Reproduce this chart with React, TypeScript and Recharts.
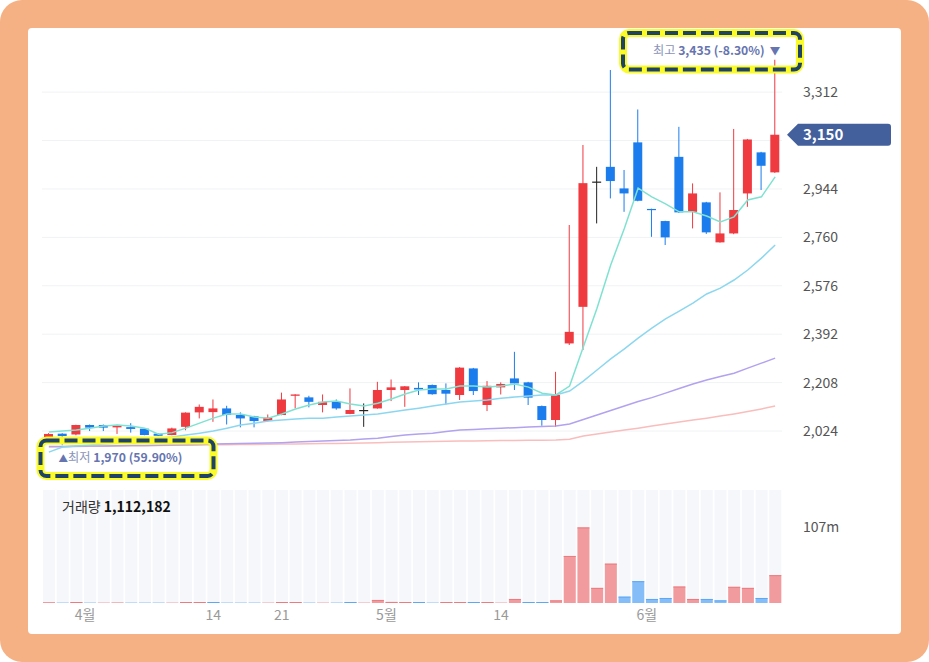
import {
  Bar,
  CartesianGrid,
  ComposedChart,
  Line,
  ReferenceDot,
  ReferenceLine,
  XAxis,
  YAxis,
} from "recharts";

const dates = [
  "03-27", "03-28", "03-31", "04-01", "04-02", "04-03", "04-04", "04-07", "04-08", "04-09",
  "04-10", "04-11", "04-14", "04-15", "04-16", "04-17", "04-18", "04-21", "04-22", "04-23",
  "04-24", "04-25", "04-28", "04-29", "04-30", "05-02", "05-05", "05-06", "05-07", "05-08",
  "05-09", "05-12", "05-13", "05-14", "05-15", "05-16", "05-19", "05-20", "05-21", "05-22",
  "05-23", "05-26", "05-27", "05-28", "06-02", "06-04", "06-05", "06-09", "06-10", "06-11",
  "06-12", "06-13", "06-16", "06-17",
];

const opens = [
  2001, 2014, 2011, 2047, 2047, 2038, 2039, 2033, 2014, 2009,
  2040, 2095, 2096, 2110, 2085, 2080, 2062, 2085, 2158, 2152,
  2123, 2135, 2089, 2104, 2110, 2180, 2180, 2188, 2199, 2180,
  2161, 2262, 2123, 2190, 2224, 2209, 2119, 2066, 2357, 2496,
  2972, 3028, 2946, 3121, 2868, 2822, 3066, 2857, 2893, 2741,
  2775, 2927, 3083, 3007,
];
const highs = [
  2016, 2016, 2048, 2049, 2049, 2048, 2054, 2034, 2015, 2037,
  2095, 2125, 2144, 2120, 2095, 2082, 2087, 2170, 2164, 2158,
  2163, 2144, 2186, 2129, 2211, 2220, 2195, 2209, 2201, 2205,
  2267, 2264, 2214, 2209, 2325, 2211, 2121, 2249, 2807, 3111,
  3028, 3396, 3016, 3246, 2869, 2823, 3180, 2965, 2895, 2931,
  3172, 3134, 3085, 3435,
];
const lows = [
  1997, 1970, 2008, 2024, 2024, 2013, 2018, 2008, 2005, 2008,
  2027, 2072, 2059, 2049, 2038, 2038, 2060, 2084, 2110, 2114,
  2095, 2105, 2088, 2040, 2109, 2138, 2116, 2161, 2162, 2125,
  2142, 2161, 2100, 2163, 2180, 2123, 2044, 2040, 2351, 2332,
  2813, 2908, 2857, 2897, 2762, 2731, 2853, 2794, 2773, 2740,
  2772, 2876, 2940, 3005,
];
const closes = [
  2013, 2005, 2047, 2037, 2037, 2047, 2032, 2009, 2006, 2034,
  2094, 2116, 2110, 2085, 2072, 2062, 2075, 2144, 2163, 2135,
  2135, 2110, 2104, 2104, 2180, 2190, 2194, 2182, 2164, 2166,
  2265, 2176, 2196, 2203, 2205, 2151, 2066, 2161, 2401, 2966,
  2972, 2974, 2927, 2899, 2864, 2760, 2855, 2927, 2779, 2775,
  2864, 3132, 3032, 3150,
];

// volume in millions
const volumes = [
  0.8, 0.3, 1.4, 0.3, 0.3, 0.5, 0.3, 0.3, 0.3, 0.3,
  1.4, 1.4, 1.4, 0.3, 0.3, 0.3, 0.3, 1.4, 1.4, 0.3,
  0.3, 0.3, 1.4, 0.3, 4.3, 1.5, 1.4, 1.4, 0.3, 1.4,
  1.4, 1.4, 1.4, 0.3, 5.7, 1.4, 1.4, 3.7, 66.6, 107,
  21.4, 55.7, 9, 30.9, 5.7, 7.1, 23.3, 5.7, 5.7, 3.7,
  22.9, 21.4, 7.1, 39.4,
];

const ma5 = [
  2020, 2024, 2028, 2035, 2043, 2047, 2043, 2035, 2012, 2018,
  2035, 2054, 2073, 2089, 2089, 2077, 2073, 2089, 2108, 2123,
  2134, 2138, 2127, 2119, 2130, 2146, 2165, 2180, 2184, 2184,
  2195, 2195, 2191, 2195, 2203, 2191, 2168, 2161, 2195, 2343,
  2491, 2655, 2795, 2947, 2914, 2887, 2857, 2857, 2841, 2819,
  2838, 2902, 2914, 2990,
];
const ma20 = [
  1944, 1963, 1967, 1971, 1975, 1978, 1986, 1990, 1997, 2001,
  2009, 2016, 2024, 2035, 2047, 2054, 2062, 2066, 2070, 2073,
  2073, 2077, 2081, 2085, 2089, 2096, 2104, 2111, 2119, 2127,
  2134, 2138, 2142, 2149, 2153, 2157, 2161, 2161, 2176, 2214,
  2256, 2298, 2336, 2377, 2415, 2450, 2480, 2510, 2545, 2567,
  2598, 2636, 2681, 2731,
];
const ma60 = [
  1965, 1965, 1966, 1967, 1967, 1968, 1969, 1969, 1970, 1971,
  1972, 1973, 1975, 1976, 1977, 1978, 1979, 1980, 1982, 1984,
  1986, 1988, 1990, 1994, 1997, 2003, 2009, 2013, 2016, 2022,
  2028, 2030, 2033, 2035, 2037, 2039, 2041, 2043, 2051, 2068,
  2085, 2102, 2119, 2136, 2151, 2168, 2186, 2203, 2218, 2231,
  2244, 2263, 2282, 2301,
];
const ma120 = [
  1963, 1964, 1965, 1966, 1966, 1967, 1968, 1968, 1969, 1970,
  1970, 1971, 1972, 1972, 1973, 1973, 1974, 1975, 1975, 1976,
  1977, 1977, 1978, 1979, 1980, 1981, 1982, 1983, 1984, 1985,
  1986, 1986, 1987, 1988, 1988, 1989, 1989, 1990, 1993, 2005,
  2013, 2020, 2028, 2035, 2043, 2051, 2058, 2066, 2073, 2081,
  2089, 2098, 2108, 2119,
];

const priceTicks = [2024, 2208, 2392, 2576, 2760, 2944, 3128, 3312];
const volumeTicks = [107];
const dateTicks = ["04-01", "04-14", "04-21", "05-02", "05-14", "06-02"];
const monthStarts = ["04-01", "05-02", "06-02"];
const lastVolume = 1112182;

const UP = "#ef3a40";
const DOWN = "#1b7ded";
const FLAT = "#222222";
const FONT = '"Noto Sans CJK KR", "Noto Sans", sans-serif';

const rows = dates.map((d, i) => ({
  date: d,
  open: opens[i],
  high: highs[i],
  low: lows[i],
  close: closes[i],
  range: [lows[i], highs[i]],
  vol: volumes[i],
  volUp: i === 0 || closes[i] >= closes[i - 1],
  ma5: ma5[i],
  ma20: ma20[i],
  ma60: ma60[i],
  ma120: ma120[i],
}));

const last = closes[closes.length - 1];
const hiIdx = highs.indexOf(Math.max(...highs));
const loIdx = lows.indexOf(Math.min(...lows));
const fmt = (v: number) => v.toLocaleString("en-US");
const pct = (v: number) => (((last - v) / v) * 100).toFixed(2);

function Candle(props: any) {
  const { x, y, width, height, payload } = props;
  const { open, close, high, low } = payload;
  const top = Math.min(y, y + height);
  const h = Math.abs(height);
  const k = h / (high - low || 1);
  const py = (v: number) => top + (high - v) * k;
  const color = close > open ? UP : close < open ? DOWN : FLAT;
  const cx = x + width / 2;
  const bTop = py(Math.max(open, close));
  const bBot = py(Math.min(open, close));
  return (
    <g>
      <line x1={cx} x2={cx} y1={top} y2={top + h} stroke={color} strokeWidth={1} />
      <rect x={x} y={bTop} width={width} height={Math.max(bBot - bTop, 1.2)} fill={color} />
    </g>
  );
}

function VolBar(props: any) {
  const { x, y, width, height, payload } = props;
  if (!height || height <= 0) return null;
  const up = payload.volUp;
  return (
    <g>
      <rect x={x} y={y} width={width} height={height} fill={up ? "#f29b9e" : "#84bdf7"} />
      <line x1={x} x2={x + width} y1={y + 0.5} y2={y + 0.5} stroke={up ? "#ea7c80" : "#5ea7f3"} />
    </g>
  );
}

function PriceBadge(props: any) {
  const vb = props.viewBox;
  const x = vb.x + vb.width + 5;
  const y = vb.y;
  const r = x + 104;
  return (
    <g>
      <path
        d={`M${x} ${y} L${x + 11} ${y - 11} H${r - 3} Q${r} ${y - 11} ${r} ${y - 8} V${y + 8} Q${r} ${y + 11} ${r - 3} ${y + 11} H${x + 11} Z`}
        fill="#43609c"
      />
      <text x={x + 16} y={y} dy="0.36em" fill="#fff" fontSize={15} fontWeight={600} fontFamily={FONT}>
        {fmt(last)}
      </text>
    </g>
  );
}

function HighLabel(props: any) {
  const vb = props.viewBox;
  const x = vb.x + (vb.width || 0) / 2;
  const y = vb.y + (vb.height || 0) / 2;
  return (
    <text x={x + 5} y={y - 5} textAnchor="end" fontSize={12.2} fontFamily={FONT}>
      <tspan fill="#8a93b8">최고 </tspan>
      <tspan fill="#6675b0" fontWeight={700}>{`${fmt(highs[hiIdx])} (${pct(highs[hiIdx])}%)`}</tspan>
      <tspan fill="#6675b0" dx={5} fontSize={10.5}>▼</tspan>
    </text>
  );
}

function LowLabel(props: any) {
  const vb = props.viewBox;
  const x = vb.x + (vb.width || 0) / 2;
  const y = vb.y + (vb.height || 0) / 2;
  return (
    <text x={x - 4} y={y + 17} textAnchor="start" fontSize={12.2} fontFamily={FONT}>
      <tspan fill="#6675b0" fontSize={9.5}>▲</tspan>
      <tspan fill="#8a93b8">최저 </tspan>
      <tspan fill="#6675b0" fontWeight={700}>{`${fmt(lows[loIdx])} (${pct(lows[loIdx])}%)`}</tspan>
    </text>
  );
}

function DateTick(props: any) {
  const { x, y, payload } = props;
  const d: string = payload.value;
  const isMonth = monthStarts.includes(d);
  const label = isMonth ? `${Number(d.slice(0, 2))}월` : String(Number(d.slice(3)));
  return (
    <text x={x + (isMonth ? -5 : 0)} y={y + 9} textAnchor="middle" fontSize={14} fill="#9a9a9a" fontFamily={FONT}>
      {label}
    </text>
  );
}

function HighlightBox({ x, y, w, h }: { x: number; y: number; w: number; h: number }) {
  return (
    <g>
      <rect x={x} y={y} width={w} height={h} rx={6} fill="none" stroke="#fbfb2a" strokeWidth={8} />
      <rect x={x} y={y} width={w} height={h} rx={6} fill="none" stroke="#1f4367" strokeWidth={4} strokeDasharray="13 5" />
    </g>
  );
}

export default function App() {
  return (
    <div style={{ position: "fixed", left: 0, top: 0, width: 929, height: 662, background: "#fff", fontFamily: FONT }}>
      <div style={{ position: "absolute", inset: 0, background: "#f5b183", borderRadius: 22 }} />
      <div style={{ position: "absolute", left: 28, top: 28, width: 873, height: 606, background: "#fff", borderRadius: 4 }} />

      <div style={{ position: "absolute", left: 0, top: 0 }}>
        <ComposedChart width={929} height={662} data={rows} margin={{ top: 40, right: 47, bottom: 192, left: 42 }}>
          <CartesianGrid vertical={false} stroke="#f1f2f4" horizontalValues={priceTicks} />
          <XAxis dataKey="date" hide />
          <YAxis
            orientation="right"
            width={100}
            domain={[1876, 3510]}
            allowDataOverflow
            ticks={priceTicks}
            axisLine={false}
            tickLine={false}
            tickMargin={15}
            tick={{ fontSize: 14, fill: "#555", fontFamily: FONT }}
            tickFormatter={(v: number) => (v === 3128 ? "" : fmt(v))}
          />
          <Line dataKey="ma120" stroke="#f9bdbd" strokeWidth={1.5} dot={false} activeDot={false} isAnimationActive={false} />
          <Line dataKey="ma60" stroke="#b2a2ef" strokeWidth={1.5} dot={false} activeDot={false} isAnimationActive={false} />
          <Line dataKey="ma20" stroke="#8cd7ef" strokeWidth={1.5} dot={false} activeDot={false} isAnimationActive={false} />
          <Line dataKey="ma5" stroke="#7fe2d1" strokeWidth={1.5} dot={false} activeDot={false} isAnimationActive={false} />
          <Bar dataKey="range" barSize={9} shape={<Candle />} isAnimationActive={false} />
          <ReferenceLine y={last} stroke="none" label={<PriceBadge />} />
          <ReferenceDot x={dates[hiIdx]} y={highs[hiIdx]} r={0} fill="none" stroke="none" label={<HighLabel />} />
          <ReferenceDot x={dates[loIdx]} y={lows[loIdx]} r={0} fill="none" stroke="none" label={<LowLabel />} />
        </ComposedChart>
      </div>

      <div style={{ position: "absolute", left: 0, top: 0 }}>
        <ComposedChart width={929} height={662} data={rows} margin={{ top: 490, right: 47, bottom: 29, left: 42 }}>
          <XAxis
            dataKey="date"
            ticks={dateTicks}
            interval={0}
            height={30}
            axisLine={false}
            tickLine={false}
            tick={<DateTick />}
          />
          <YAxis
            orientation="right"
            width={100}
            domain={[0, 160]}
            allowDataOverflow
            ticks={volumeTicks}
            axisLine={false}
            tickLine={false}
            tickMargin={15}
            tick={{ fontSize: 14, fill: "#555", fontFamily: FONT }}
            tickFormatter={(v: number) => `${v}m`}
          />
          <Bar dataKey="vol" barSize={12} background={{ fill: "#f5f7fb" }} shape={<VolBar />} isAnimationActive={false} />
        </ComposedChart>
      </div>

      <div style={{ position: "absolute", left: 62, top: 496, fontSize: 14, lineHeight: "20px", color: "#333" }}>
        거래량 <b style={{ color: "#111" }}>{fmt(lastVolume)}</b>
      </div>

      <svg width={929} height={662} style={{ position: "absolute", left: 0, top: 0, pointerEvents: "none" }}>
        <HighlightBox x={40.5} y={440.5} w={173} h={35.5} />
        <HighlightBox x={623} y={33} w={177} h={36.5} />
      </svg>
    </div>
  );
}
